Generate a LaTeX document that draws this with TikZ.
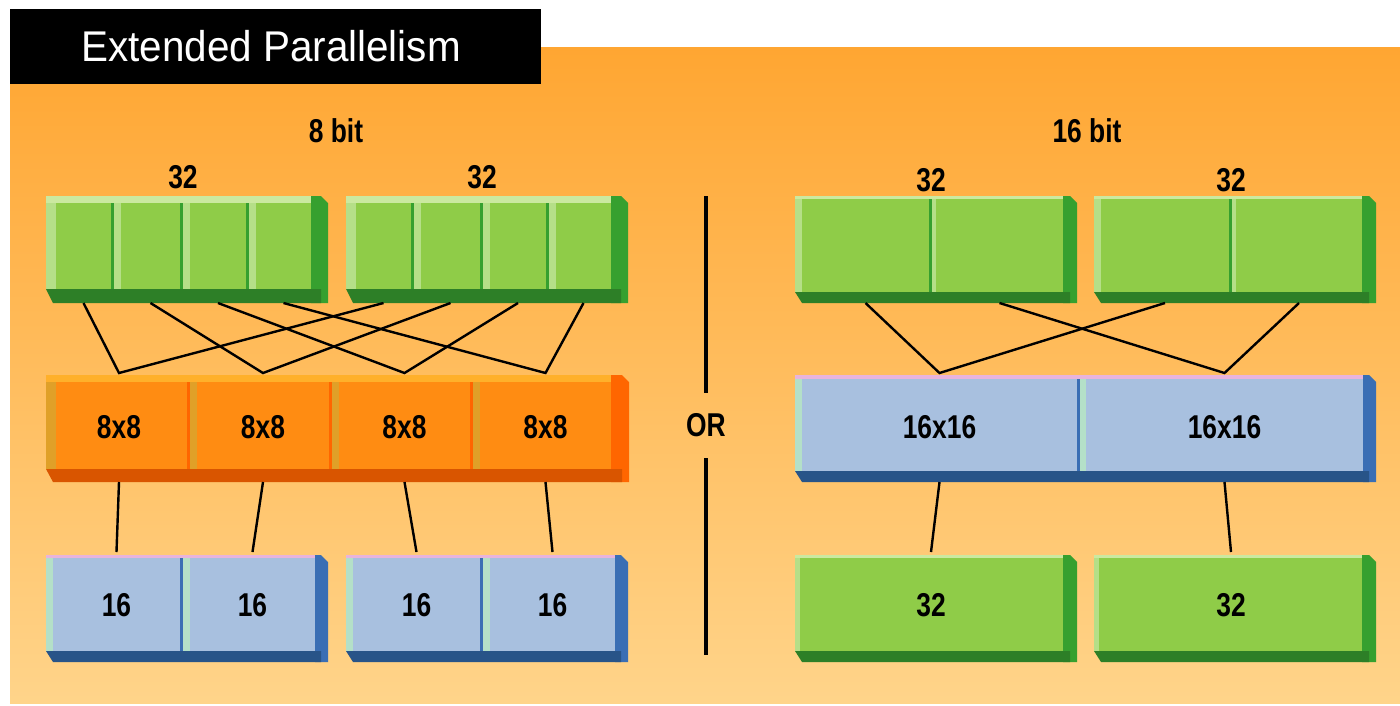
\documentclass[tikz,border=0pt]{standalone}
\usepackage{fontspec}
\setmainfont{Liberation Sans}
\usepackage{graphicx}
\definecolor{gface}{HTML}{8FCC48}
\definecolor{gtop}{HTML}{CBE9A0}
\definecolor{gleft}{HTML}{B5DF88}
\definecolor{gright}{HTML}{36A02F}
\definecolor{gbot}{HTML}{2D7F27}
\definecolor{oface}{HTML}{FF8C12}
\definecolor{otop}{HTML}{FFB02A}
\definecolor{oleft}{HTML}{E0A028}
\definecolor{oright}{HTML}{FF6600}
\definecolor{obot}{HTML}{D95500}
\definecolor{bface}{HTML}{A8C0DF}
\definecolor{btop}{HTML}{E8B4DC}
\definecolor{bleft}{HTML}{B4E0C8}
\definecolor{bright}{HTML}{3A6EB4}
\definecolor{bbot}{HTML}{285488}
\definecolor{bgtop}{HTML}{FFA632}
\definecolor{bgbot}{HTML}{FFD48A}
% x0 y0 x1 y1 scheme T L R B
\newcommand{\blk}[9]{%
  \fill[#5right] ({#3-#8},#2) -- ({#3-7},#2) -- (#3,{#2+7}) -- (#3,#4) -- ({#3-#8},#4) -- cycle;
  \fill[#5bot] (#1,{#4-#9}) -- ({#3-7},{#4-#9}) -- ({#3-7},#4) -- ({#1+7},#4) -- cycle;
  \fill[#5face] (#1,#2) rectangle ({#3-#8},{#4-#9});
  \fill[#5top] (#1,#2) rectangle ({#3-#8},{#2+#6});
  \fill[#5left] (#1,{#2+#6}) rectangle ({#1+#7},{#4-#9});
}
% x y0 y1 scheme w
\newcommand{\divd}[5]{%
  \fill[#4right] ({#1-3},#2) rectangle (#1,#3);
  \fill[#4left] (#1,#2) rectangle ({#1+#5},#3);
}
\newcommand{\sq}[1]{\scalebox{0.8}[1]{#1}}
\tikzset{
  cellnode/.style={inner sep=0pt, outer sep=0pt, font=\fontsize{33}{33}\selectfont\bfseries, text=black},
  lbl/.style={inner sep=0pt, font=\fontsize{33}{33}\selectfont\bfseries, text=black},
  conn/.style={line width=2.4pt, black},
  sepline/.style={line width=4pt, black}
}
\begin{document}
\begin{tikzpicture}[x=1pt,y=-1pt]
\useasboundingbox (0,0) rectangle (1400,705);
\fill[white] (0,0) rectangle (1400,705);
\shade[top color=bgtop, bottom color=bgbot] (10,47) rectangle (1400,703);
\fill[black] (10,9) rectangle (541,84);
\node[anchor=base west, inner sep=0pt, text=white, font=\fontsize{43}{43}\selectfont] (title) at (81,61) {\scalebox{0.94}[1]{Extended Parallelism}};

% headings
\node[lbl] (h8) at (336,131) {\sq{8 bit}};
\node[lbl] (h16) at (1087,131) {\sq{16 bit}};
\node[lbl] (tA) at (183,177) {\sq{32}};
\node[lbl] (tB) at (482,177) {\sq{32}};
\node[lbl] (tE) at (931,180) {\sq{32}};
\node[lbl] (tF) at (1231,180) {\sq{32}};

% ---------- 8 bit ----------
\blk{46}{196}{328}{303}{g}{7}{10}{17}{14}
\divd{114}{203}{289}{g}{7}\divd{183}{203}{289}{g}{7}\divd{249}{203}{289}{g}{7}
\blk{346}{196}{628}{303}{g}{7}{10}{17}{14}
\divd{414}{203}{289}{g}{7}\divd{483}{203}{289}{g}{7}\divd{549}{203}{289}{g}{7}
\blk{46}{375}{629}{482}{o}{7}{10}{18}{13}
\divd{190}{382}{469}{o}{7}\divd{332}{382}{469}{o}{7}\divd{473}{382}{469}{o}{7}
\blk{46}{555}{328}{662}{b}{3}{7}{13}{11}
\divd{183}{558}{651}{b}{7}
\blk{346}{555}{628}{662}{b}{3}{7}{13}{11}
\divd{483}{558}{651}{b}{7}

\node[cellnode, minimum width=55, minimum height=107] (a1) at (83.5,249.5) {};
\node[cellnode, minimum width=55, minimum height=107] (a2) at (150.5,249.5) {};
\node[cellnode, minimum width=55, minimum height=107] (a3) at (218,249.5) {};
\node[cellnode, minimum width=55, minimum height=107] (a4) at (283.5,249.5) {};
\node[cellnode, minimum width=55, minimum height=107] (b1) at (383.5,249.5) {};
\node[cellnode, minimum width=55, minimum height=107] (b2) at (450.5,249.5) {};
\node[cellnode, minimum width=55, minimum height=107] (b3) at (518,249.5) {};
\node[cellnode, minimum width=55, minimum height=107] (b4) at (583.5,249.5) {};

\node[cellnode, minimum width=120, minimum height=109] (m1) at (119,427.5) {\sq{8x8}};
\node[cellnode, minimum width=120, minimum height=109] (m2) at (263,427.5) {\sq{8x8}};
\node[cellnode, minimum width=120, minimum height=109] (m3) at (404.5,427.5) {\sq{8x8}};
\node[cellnode, minimum width=120, minimum height=109] (m4) at (545.5,427.5) {\sq{8x8}};

\node[cellnode, minimum width=120, minimum height=106] (c1) at (116.5,605) {\sq{16}};
\node[cellnode, minimum width=120, minimum height=106] (c2) at (252.5,605) {\sq{16}};
\node[cellnode, minimum width=120, minimum height=106] (d1) at (416.5,605) {\sq{16}};
\node[cellnode, minimum width=120, minimum height=106] (d2) at (552.5,605) {\sq{16}};

\draw[conn] (a1.south) -- (m1.north) -- (b1.south);
\draw[conn] (a2.south) -- (m2.north) -- (b2.south);
\draw[conn] (a3.south) -- (m3.north) -- (b3.south);
\draw[conn] (a4.south) -- (m4.north) -- (b4.south);
\draw[conn] (m1.south) -- (c1.north);
\draw[conn] (m2.south) -- (c2.north);
\draw[conn] (m3.south) -- (d1.north);
\draw[conn] (m4.south) -- (d2.north);

% ---------- OR ----------
\node[lbl, minimum height=65] (or) at (706,425.5) {\sq{OR}};
\coordinate (septop) at (706,196);
\coordinate (sepbot) at (706,655);
\draw[sepline] (septop) -- (or.north);
\draw[sepline] (or.south) -- (sepbot);

% ---------- 16 bit ----------
\blk{795}{196}{1077}{303}{g}{3}{7}{14}{11}
\divd{932}{199}{292}{g}{4}
\blk{1094}{196}{1376}{303}{g}{3}{7}{14}{11}
\divd{1232}{199}{292}{g}{4}
\blk{795}{375}{1376}{482}{b}{4}{7}{13}{11}
\divd{1080}{379}{471}{b}{6}
\blk{795}{555}{1077}{662}{g}{3}{5}{14}{11}
\blk{1094}{555}{1376}{662}{g}{3}{5}{14}{11}

\node[cellnode, minimum width=120, minimum height=107] (e1) at (865.5,249.5) {};
\node[cellnode, minimum width=120, minimum height=107] (e2) at (999.5,249.5) {};
\node[cellnode, minimum width=120, minimum height=107] (f1) at (1165,249.5) {};
\node[cellnode, minimum width=120, minimum height=107] (f2) at (1299,249.5) {};
\node[cellnode, minimum width=260, minimum height=109] (p1) at (939.5,427.5) {\sq{16x16}};
\node[cellnode, minimum width=260, minimum height=109] (p2) at (1224.5,427.5) {\sq{16x16}};
\node[cellnode, minimum width=250, minimum height=106] (g) at (931,605) {\sq{32}};
\node[cellnode, minimum width=250, minimum height=106] (h) at (1231,605) {\sq{32}};

\draw[conn] (e1.south) -- (p1.north) -- (f1.south);
\draw[conn] (e2.south) -- (p2.north) -- (f2.south);
\draw[conn] (p1.south) -- (g.north);
\draw[conn] (p2.south) -- (h.north);
\end{tikzpicture}
\end{document}
